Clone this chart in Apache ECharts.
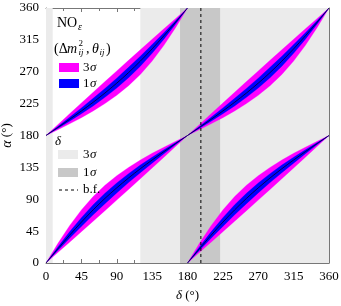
<!DOCTYPE html>
<html><head><meta charset="utf-8">
<script src="https://cdn.jsdelivr.net/npm/echarts@6/dist/echarts.min.js"></script>
<style>html,body{margin:0;padding:0;background:#fff}#c{width:341px;height:306px}</style>
</head><body><div id="c"></div>
<script>
// delta grid (degrees)
const deltaLeft  = [0,15,30,45,60,75,90,105,120,135,150,165,180];
const deltaRight = [180,195,210,225,240,255,270,285,300,315,330,345,360];
// lower curve family (alpha from 0 to 180)
const lowerCenter = [0,19.9,39.2,57.7,75.0,91.2,106.1,120.0,133.1,145.4,157.2,168.7,180];
const lower1Lo = [0,17.5,34.8,51.7,68.1,83.8,99.0,113.5,127.5,141.0,154.2,167.2,180];
const lower1Hi = [0,22.5,44.0,64.0,82.2,98.4,113.0,126.1,138.2,149.3,159.9,170.0,180];
const lower3Lo = [0,14.7,29.4,44.2,59.0,73.9,88.8,103.9,119.0,134.2,149.4,164.7,180];
const lower3Hi = [0,27.4,52.7,74.9,93.8,109.7,123.2,134.9,145.3,154.8,163.5,171.9,180];
// upper curve family (alpha from 180 to 360)
const upperCenter = [180,191.3,202.8,214.6,226.9,240.0,253.9,268.8,285.0,302.3,320.8,340.1,360];
const upper1Lo = [180,190.0,200.1,210.7,221.8,233.9,247.0,261.6,277.8,296.0,316.0,337.5,360];
const upper1Hi = [180,192.8,205.8,219.0,232.5,246.5,261.0,276.2,291.9,308.3,325.2,342.5,360];
const upper3Lo = [180,188.1,196.5,205.2,214.7,225.1,236.8,250.3,266.2,285.1,307.3,332.6,360];
const upper3Hi = [180,195.3,210.6,225.8,241.0,256.1,271.2,286.1,301.0,315.8,330.6,345.3,360];
// delta constraints
const delta3sigma = [[0,8.5],[120,360]];
const delta1sigma = [[170.5,221.5]];
const deltaBestFit = 197;

const SERIF = "'Liberation Serif','DejaVu Serif',serif";
const chart = echarts.init(document.getElementById('c'), null, {renderer:'canvas'});

function rectSeries(ranges, color, z){
  return {type:'custom', z:z, silent:true, clip:true,
    data: ranges.map(r=>[r[0],r[1]]),
    renderItem:(p,api)=>{
      const a=api.coord([api.value(0),360]), b=api.coord([api.value(1),0]);
      return {type:'rect', shape:{x:a[0],y:a[1],width:b[0]-a[0],height:b[1]-a[1]}, style:{fill:color}};
    }};
}
function bandSeries(xs, lo, hi, color, z){
  return {type:'custom', z:z, silent:true, clip:true, data:[[xs[0],lo[0]]],
    renderItem:(p,api)=>{
      const pts=[];
      for(let i=0;i<xs.length;i++) pts.push(api.coord([xs[i],lo[i]]));
      for(let i=xs.length-1;i>=0;i--) pts.push(api.coord([xs[i],hi[i]]));
      return {type:'polygon', shape:{points:pts}, style:{fill:color, stroke:color, lineWidth:0.3}};
    }};
}
function lineSeries(xs, ys){
  return {type:'line', z:6, silent:true, showSymbol:false, smooth:0.3,
    data: xs.map((x,i)=>[x,ys[i]]), lineStyle:{color:'#000020', width:0.8}};
}
const segs = [
  [deltaLeft, lower3Lo, lower3Hi, lower1Lo, lower1Hi, lowerCenter],
  [deltaRight, lower3Lo, lower3Hi, lower1Lo, lower1Hi, lowerCenter],
  [deltaLeft, upper3Lo, upper3Hi, upper1Lo, upper1Hi, upperCenter],
  [deltaRight, upper3Lo, upper3Hi, upper1Lo, upper1Hi, upperCenter]
];
const series = [rectSeries(delta3sigma,'#ebebeb',1), rectSeries(delta1sigma,'#c8c8c8',2)];
segs.forEach(s=>series.push(bandSeries(s[0],s[1],s[2],'#ff00ff',3)));
segs.forEach(s=>series.push(bandSeries(s[0],s[3],s[4],'#0000ff',4)));
segs.forEach(s=>series.push(lineSeries(s[0],s[5])));
series.push({type:'line', z:8, silent:true, showSymbol:false,
  data:[[deltaBestFit,0],[deltaBestFit,360]], lineStyle:{color:'#000', width:1, type:[3,3]}});

function axisCommon(showLabel){
  return {type:'value', min:0, max:360, interval:45,
    axisLine:{show:true,onZero:false,lineStyle:{color:'#777',width:1}},
    axisTick:{show:true,inside:true,length:4,lineStyle:{color:'#777'}},
    minorTick:{show:true,splitNumber:2,length:3,lineStyle:{color:'#777'}},
    splitLine:{show:false}, minorSplitLine:{show:false},
    axisLabel:{show:showLabel,color:'#000',fontFamily:SERIF,fontSize:13,margin:7}};
}
const xMain = Object.assign(axisCommon(true),{position:'bottom',
  name:'{i|δ} (°)', nameLocation:'middle', nameGap:26, nameMoveOverlap:false,
  nameTextStyle:{fontFamily:SERIF,fontSize:13,color:'#000',rich:{i:{fontFamily:SERIF,fontStyle:'italic',fontSize:13}}}});
const xTop = Object.assign(axisCommon(false),{position:'top'});
const yMain = Object.assign(axisCommon(true),{position:'left',
  name:'{i|α} (°)', nameLocation:'middle', nameGap:32, nameMoveOverlap:false,
  nameTextStyle:{fontFamily:SERIF,fontSize:13,color:'#000',rich:{i:{fontFamily:SERIF,fontStyle:'italic',fontSize:14}}}});
const yRight = Object.assign(axisCommon(false),{position:'right'});

const T = (x,y,text,size,italic,extra)=>({type:'text', x:x, y:y, z:100,
  style:Object.assign({text:text, fontFamily:SERIF, fontSize:size, fontStyle:italic?'italic':'normal', fill:'#000', textVerticalAlign:'middle'}, extra||{})});
const R = (x,y,w,h,c)=>({type:'rect', z:100, shape:{x:x,y:y,width:w,height:h}, style:{fill:c}});
const graphics = [
  T(57,23,'NO',14,false), T(78,27,'ε',10,true),
  T(54,49,'(Δ',14,false), T(67,49,'m',14,true), T(78.5,44,'2',9,false), T(78.5,53,'ij',9,true),
  T(86,49,',',14,false), T(92,49,'θ',14,true), T(99.5,53,'ij',9,true), T(106,49,')',14,false),
  R(59,63,20,9,'#ff00ff'), T(83,68,'3',13,false), T(90,68,'σ',13,true),
  R(59,79,20,9,'#0000ff'), T(83,84,'1',13,false), T(90,84,'σ',13,true),
  T(55,142,'δ',13,true),
  R(58,150,20,9,'#ebebeb'), T(83,155,'3',13,false), T(90,155,'σ',13,true),
  R(58,168,20,9,'#c8c8c8'), T(83,173,'1',13,false), T(90,173,'σ',13,true),
  {type:'line', z:100, shape:{x1:59,y1:190,x2:78,y2:190}, style:{stroke:'#000',lineWidth:1,lineDash:[3,3]}},
  T(83,190,'b.f.',13,false)
];

chart.setOption({
  animation:false,
  grid:{left:46, top:8, width:283, height:255, containLabel:false, outerBoundsMode:'none'},
  xAxis:[xMain, xTop], yAxis:[yMain, yRight],
  series:series.map(s=>Object.assign(s,{xAxisIndex:0,yAxisIndex:0})),
  graphic:graphics
});
</script></body></html>
